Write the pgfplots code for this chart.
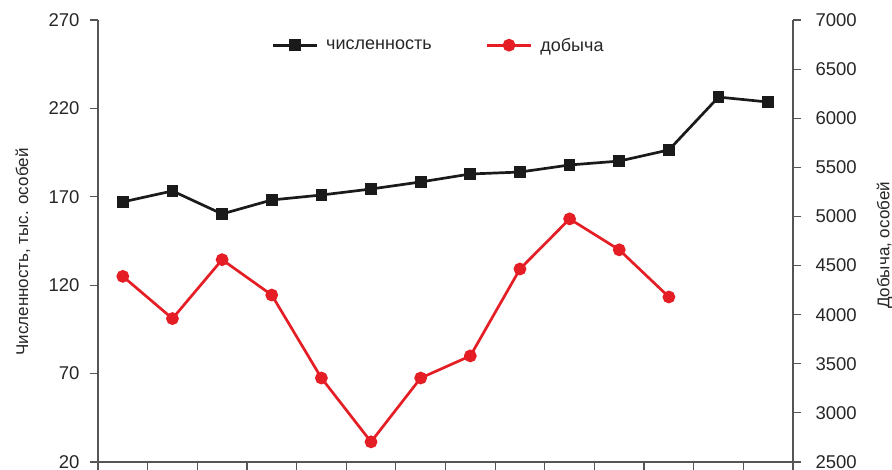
\documentclass[border=0pt]{standalone}
\usepackage{fontspec}
\setmainfont{Liberation Sans}
\usepackage{pgfplots}
\pgfplotsset{compat=1.18}

\definecolor{lineblack}{RGB}{26,26,26}
\definecolor{linered}{RGB}{228,30,36}
\definecolor{axisgray}{RGB}{85,85,85}

\pgfplotsset{
  common/.style={
    scale only axis,
    width=695pt, height=442pt,
    xmin=0, xmax=14,
    xtick={0,...,14}, xticklabels={},
    tick align=outside,
    major tick length=8pt,
    tick style={axisgray, line width=1.2pt},
    axis line style={axisgray, line width=1.2pt, -},
    /pgf/number format/assume math mode=true,
    /pgf/number format/1000 sep={},
    ticklabel style={font=\fontsize{18.5}{20}\selectfont, text=black!85},
    label style={font=\fontsize{17}{20}\selectfont, text=black!85},
  },
}

\begin{document}
\begin{tikzpicture}
% численность, тыс. особей (левая ось)
\begin{axis}[common,
  axis x line*=bottom, axis y line*=left,
  ymin=20, ymax=270, ytick={20,70,120,170,220,270},
  yticklabel style={xshift=-7pt},
  ylabel={Численность, тыс. особей},
  ylabel style={at={(axis description cs:-0.108,0.475)}, anchor=center},
]
\addplot[lineblack, line width=2.7pt, mark=square*, mark size=4.5pt] coordinates {
  (0.5,167.1) (1.5,173.3) (2.5,160.3) (3.5,168.2) (4.5,171.0) (5.5,174.4) (6.5,178.4)
  (7.5,182.9) (8.5,184.0) (9.5,188.0) (10.5,190.2) (11.5,196.5) (12.5,226.4) (13.5,223.6)
};
\end{axis}
% добыча, особей (правая ось)
\begin{axis}[common,
  axis x line=none, axis y line*=right,
  ymin=2500, ymax=7000, ytick={2500,3000,...,7000},
  yticklabel style={xshift=11pt},
  ylabel={Добыча, особей},
  ylabel style={at={(axis description cs:1.132,0.49)}, anchor=center},
  legend columns=2,
  legend style={draw=none, fill=none, at={(axis description cs:0.49,0.943)}, anchor=center,
    font=\fontsize{18}{20}\selectfont, text=black!85,
    /tikz/every odd column/.append style={column sep=6pt},
    /tikz/every even column/.append style={column sep=52pt}},
  legend image code/.code={\draw[mark repeat=2, mark phase=2, #1] plot coordinates {(0pt,0pt) (22pt,0pt) (44pt,0pt)};},
]
\addlegendimage{lineblack, line width=2.7pt, mark=square*, mark size=4.5pt}
\addlegendentry{численность}
\addplot[linered, line width=2.7pt, mark=*, mark size=5pt] coordinates {
  (0.5,4390) (1.5,3960) (2.5,4560) (3.5,4200) (4.5,3355) (5.5,2705)
  (6.5,3355) (7.5,3580) (8.5,4465) (9.5,4975) (10.5,4660) (11.5,4180)
};
\addlegendentry{добыча}
\end{axis}
\pgfresetboundingbox
\path (-98pt,-8pt) rectangle (794pt,462pt);
\end{tikzpicture}
\end{document}
